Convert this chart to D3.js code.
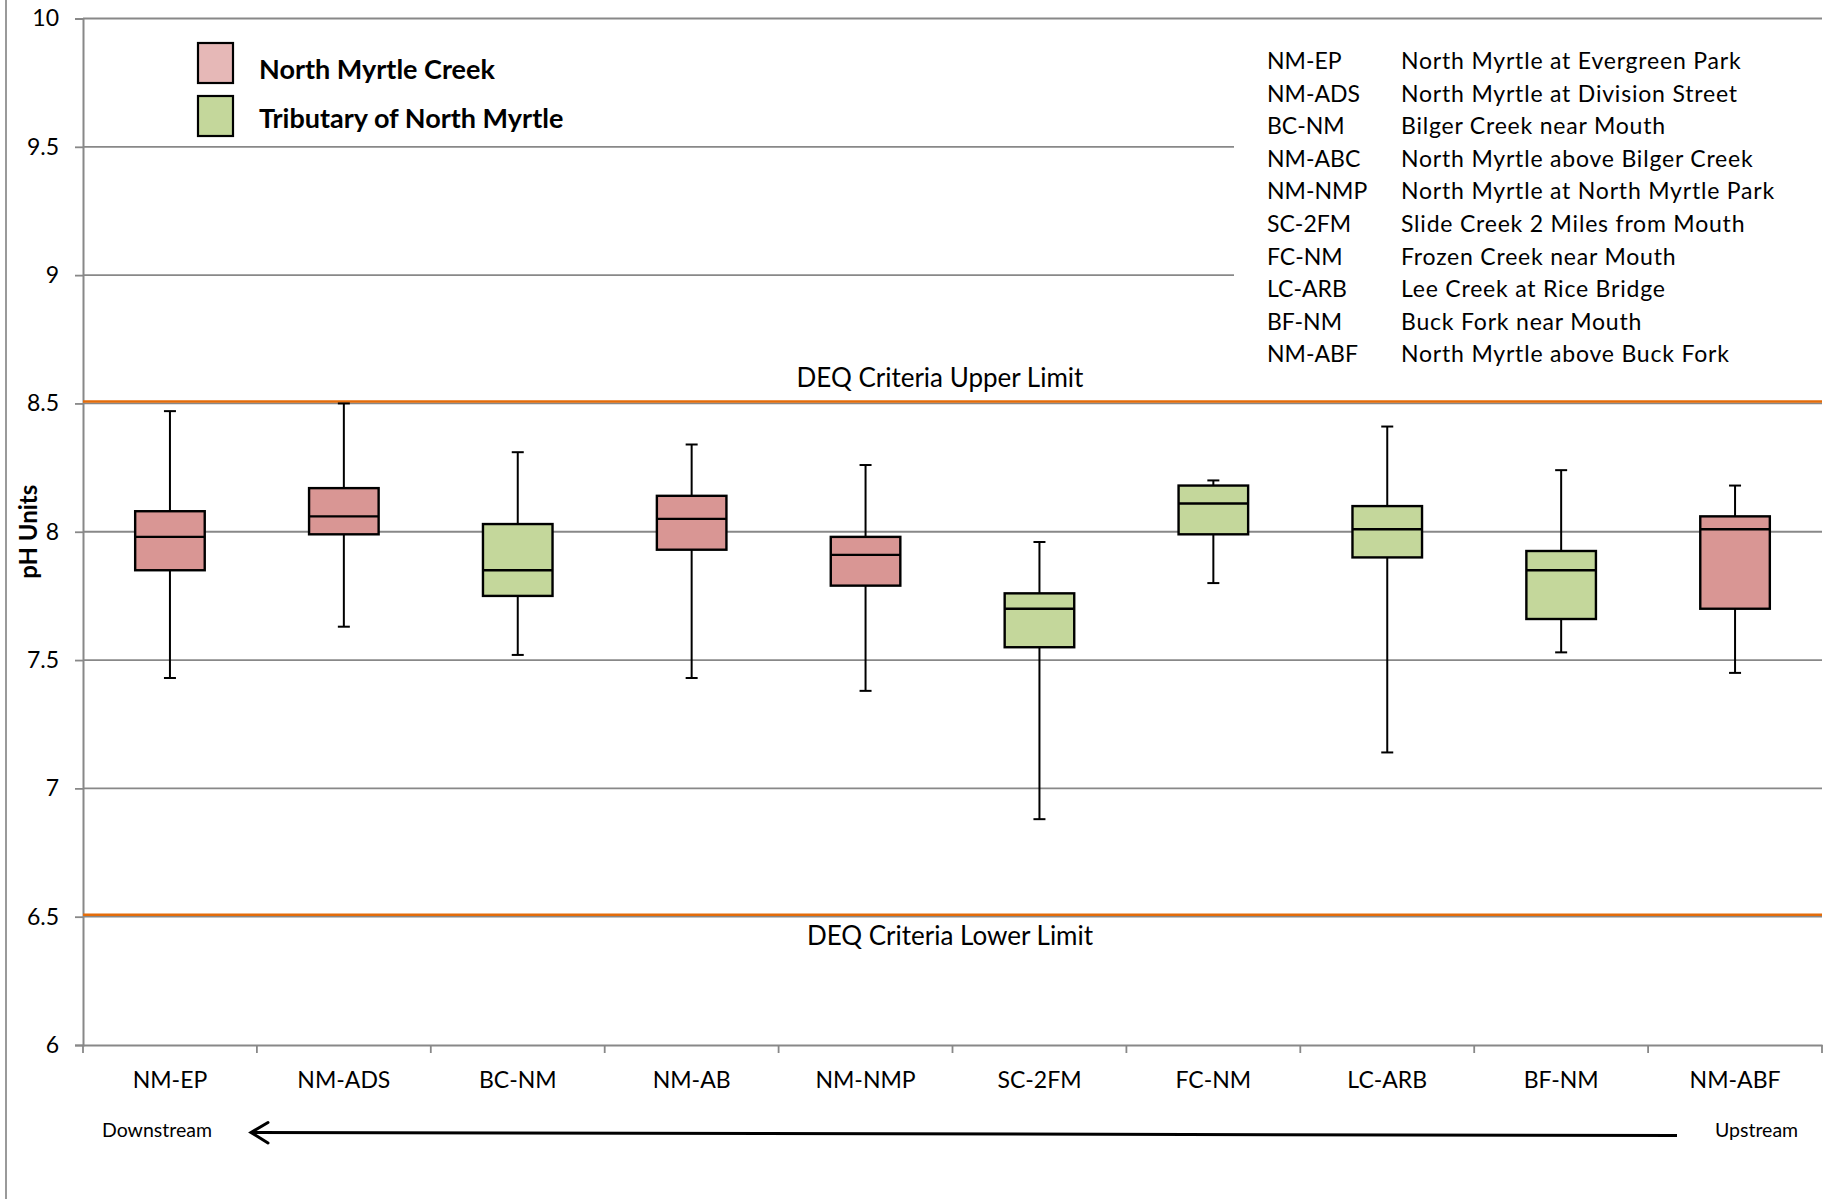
<!DOCTYPE html>
<html>
<head>
<meta charset="utf-8">
<script src="https://cdn.jsdelivr.net/npm/d3@7"></script>
<style>
  html, body { margin: 0; padding: 0; background: #fff; }
  svg { display: block; font-family: Lato, "Open Sans", sans-serif; }
</style>
</head>
<body>
<svg id="chart" width="1839" height="1199"></svg>
<script>
// Sampling sites, ordered downstream -> upstream
const categories = ["NM-EP", "NM-ADS", "BC-NM", "NM-AB", "NM-NMP", "SC-2FM", "FC-NM", "LC-ARB", "BF-NM", "NM-ABF"];
// Which water body each site belongs to
const siteGroups = ["main", "main", "trib", "main", "main", "trib", "trib", "trib", "trib", "main"];

// pH box-plot statistics per site
const minValues    = [7.43, 7.63, 7.52, 7.43, 7.38, 6.88, 7.80, 7.14, 7.53, 7.45];
const q1Values     = [7.85, 7.99, 7.75, 7.93, 7.79, 7.55, 7.99, 7.90, 7.66, 7.70];
const medianValues = [7.98, 8.06, 7.85, 8.05, 7.91, 7.70, 8.11, 8.01, 7.85, 8.01];
const q3Values     = [8.08, 8.17, 8.03, 8.14, 7.98, 7.76, 8.18, 8.10, 7.925, 8.06];
const maxValues    = [8.47, 8.50, 8.31, 8.34, 8.26, 7.96, 8.20, 8.41, 8.24, 8.18];

// Oregon DEQ pH criteria
const criteriaUpper = 8.5;
const criteriaLower = 6.5;

const yTicks = [6, 6.5, 7, 7.5, 8, 8.5, 9, 9.5, 10];

const legendGroups = ["North Myrtle Creek", "Tributary of North Myrtle"];

const siteCodes = ["NM-EP", "NM-ADS", "BC-NM", "NM-ABC", "NM-NMP", "SC-2FM", "FC-NM", "LC-ARB", "BF-NM", "NM-ABF"];
const siteNames = [
  "North Myrtle at Evergreen Park",
  "North Myrtle at Division Street",
  "Bilger Creek near Mouth",
  "North Myrtle above Bilger Creek",
  "North Myrtle at North Myrtle Park",
  "Slide Creek 2 Miles from Mouth",
  "Frozen Creek near Mouth",
  "Lee Creek at Rice Bridge",
  "Buck Fork near Mouth",
  "North Myrtle above Buck Fork"
];

// ---- layout ----
const plot = { left: 83, right: 1822, top: 18.5, bottom: 1045 };
const fills = { main: "#D99694", trib: "#C4D79B" };
const legendFills = ["#E6B8B7", "#C4D79B"];
const gridColor = "#888888";
const orange = "#E46C0A";

const svg = d3.select("#chart");

const x = d3.scaleBand().domain(categories).range([plot.left, plot.right]);
const y = d3.scaleLinear().domain([6, 10]).range([plot.bottom, plot.top]);

// outer frame edge on the left
svg.append("line")
  .attr("x1", 6).attr("x2", 6).attr("y1", 0).attr("y2", 1199)
  .attr("stroke", "#9a9a9a").attr("stroke-width", 2);

// horizontal gridlines
svg.append("g")
  .selectAll("line")
  .data(yTicks.filter(t => t !== 6))
  .join("line")
  .attr("x1", plot.left).attr("x2", plot.right)
  .attr("y1", d => y(d)).attr("y2", d => y(d))
  .attr("stroke", gridColor).attr("stroke-width", 1.8);

// y axis
const yAxis = svg.append("g")
  .attr("transform", `translate(${plot.left},0)`)
  .call(d3.axisLeft(y).tickValues(yTicks).tickSize(8).tickPadding(16)
        .tickFormat(d => d3.format("")(d)));
yAxis.select(".domain").attr("stroke", gridColor).attr("stroke-width", 2);
yAxis.selectAll(".tick line").attr("stroke", gridColor).attr("stroke-width", 1.8);
yAxis.selectAll(".tick text")
  .attr("font-family", "Lato, sans-serif").attr("font-size", 23).attr("fill", "#000");

// x axis
const xAxis = svg.append("g")
  .attr("transform", `translate(0,${plot.bottom})`)
  .call(d3.axisBottom(x).tickSize(0).tickPadding(27));
xAxis.select(".domain").attr("stroke", gridColor).attr("stroke-width", 2);
xAxis.selectAll(".tick text")
  .attr("font-family", "Lato, sans-serif").attr("font-size", 23).attr("fill", "#000");
// category boundary ticks
svg.append("g")
  .selectAll("line")
  .data(categories.map(c => x(c)).concat([plot.right]))
  .join("line")
  .attr("x1", d => d).attr("x2", d => d)
  .attr("y1", plot.bottom).attr("y2", plot.bottom + 8)
  .attr("stroke", gridColor).attr("stroke-width", 1.8);

// y axis title
svg.append("text")
  .attr("transform", `translate(37,${y(8)}) rotate(-90)`)
  .attr("text-anchor", "middle")
  .attr("font-weight", 700).attr("font-size", 24)
  .text("pH Units");

// DEQ criteria lines
[criteriaUpper, criteriaLower].forEach(v => {
  svg.append("line")
    .attr("x1", plot.left).attr("x2", plot.right)
    .attr("y1", y(v) - 2).attr("y2", y(v) - 2)
    .attr("stroke", orange).attr("stroke-width", 2.6);
});
svg.append("text")
  .attr("x", 940).attr("y", y(criteriaUpper) - 16)
  .attr("text-anchor", "middle").attr("font-size", 26)
  .text("DEQ Criteria Upper Limit");
svg.append("text")
  .attr("x", 950).attr("y", y(criteriaLower) + 28)
  .attr("text-anchor", "middle").attr("font-size", 26)
  .text("DEQ Criteria Lower Limit");

// box plots
const boxW = x.bandwidth() * 0.4;
const capW = 12;
const boxes = svg.append("g")
  .selectAll("g")
  .data(categories.map((c, i) => ({
    cat: c, group: siteGroups[i],
    min: minValues[i], q1: q1Values[i], med: medianValues[i], q3: q3Values[i], max: maxValues[i]
  })))
  .join("g")
  .attr("transform", d => `translate(${x(d.cat) + x.bandwidth() / 2},0)`);

boxes.append("line")
  .attr("x1", 0).attr("x2", 0)
  .attr("y1", d => y(d.max)).attr("y2", d => y(d.min))
  .attr("stroke", "#000").attr("stroke-width", 2);
boxes.append("line")
  .attr("x1", -capW / 2).attr("x2", capW / 2)
  .attr("y1", d => y(d.max)).attr("y2", d => y(d.max))
  .attr("stroke", "#000").attr("stroke-width", 2);
boxes.append("line")
  .attr("x1", -capW / 2).attr("x2", capW / 2)
  .attr("y1", d => y(d.min)).attr("y2", d => y(d.min))
  .attr("stroke", "#000").attr("stroke-width", 2);
boxes.append("rect")
  .attr("x", -boxW / 2).attr("width", boxW)
  .attr("y", d => y(d.q3)).attr("height", d => y(d.q1) - y(d.q3))
  .attr("fill", d => fills[d.group])
  .attr("stroke", "#000").attr("stroke-width", 2.4);
boxes.append("line")
  .attr("x1", -boxW / 2).attr("x2", boxW / 2)
  .attr("y1", d => y(d.med)).attr("y2", d => y(d.med))
  .attr("stroke", "#000").attr("stroke-width", 2.4);

// group legend
const legend = svg.append("g");
legendGroups.forEach((label, i) => {
  const top = 43 + i * 53;
  legend.append("rect")
    .attr("x", 198).attr("y", top).attr("width", 35).attr("height", 40)
    .attr("fill", legendFills[i]).attr("stroke", "#000").attr("stroke-width", 2.2);
  legend.append("text")
    .attr("x", 259).attr("y", 79 + i * 49)
    .attr("font-weight", 700).attr("font-size", 27)
    .text(label);
});

// site key (white panel hides gridlines behind it)
svg.append("rect")
  .attr("x", 1234).attr("y", 26).attr("width", 605).attr("height", 300)
  .attr("fill", "#fff");
const key = svg.append("g");
siteCodes.forEach((code, i) => {
  const base = 69 + i * 32.6;
  key.append("text").attr("x", 1267).attr("y", base)
    .attr("font-size", 23).text(code);
  key.append("text").attr("x", 1401).attr("y", base)
    .attr("font-size", 23).attr("letter-spacing", 0.8).text(siteNames[i]);
});

// flow direction
svg.append("text").attr("x", 102).attr("y", 1137)
  .attr("font-size", 19.5).text("Downstream");
svg.append("text").attr("x", 1715).attr("y", 1137)
  .attr("font-size", 19.5).text("Upstream");
svg.append("line")
  .attr("x1", 1677).attr("y1", 1135.5).attr("x2", 252).attr("y2", 1132.5)
  .attr("stroke", "#000").attr("stroke-width", 3);
svg.append("path")
  .attr("d", "M268,1122.5 L251,1132.5 L268,1143")
  .attr("fill", "none").attr("stroke", "#000").attr("stroke-width", 3)
  .attr("stroke-linecap", "round").attr("stroke-linejoin", "miter");
</script>
</body>
</html>
